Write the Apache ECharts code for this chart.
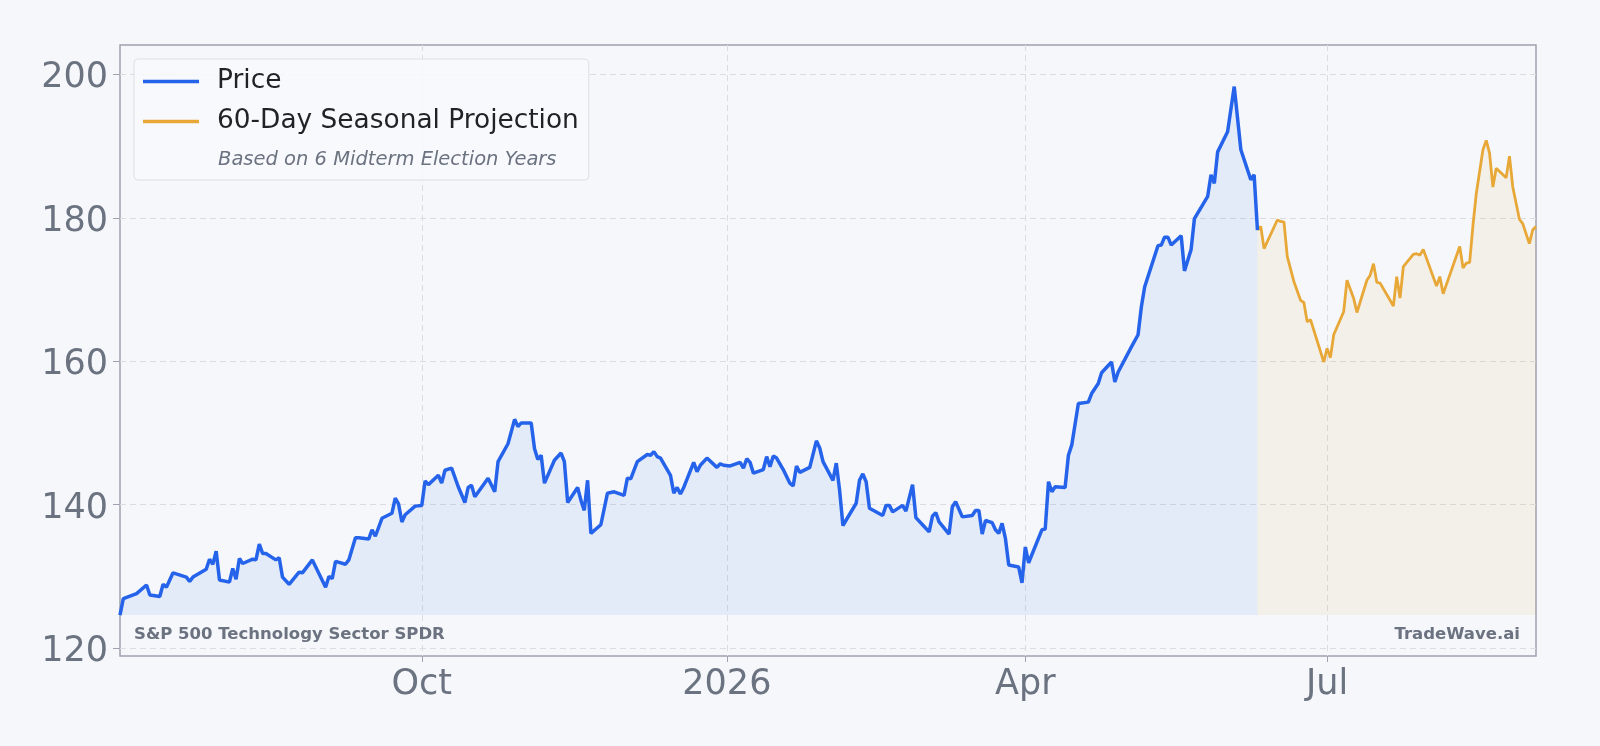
<!DOCTYPE html>
<html>
<head>
<meta charset="utf-8">
<title>S&amp;P 500 Technology Sector SPDR</title>
<script src="https://cdn.jsdelivr.net/npm/echarts@6/dist/echarts.min.js"></script>
<style>
html,body{margin:0;padding:0;background:#f5f7fa;}
#chart{width:1600px;height:746px;}
</style>
</head>
<body>
<div id="chart"></div>
<script>
/* price history */
var priceDates=['2025-07-02','2025-07-03','2025-07-07','2025-07-10','2025-07-11','2025-07-14','2025-07-15','2025-07-16','2025-07-18','2025-07-22',
'2025-07-23','2025-07-24','2025-07-28','2025-07-29','2025-07-30','2025-07-31','2025-08-01','2025-08-04','2025-08-05','2025-08-06',
'2025-08-07','2025-08-08','2025-08-11','2025-08-12','2025-08-13','2025-08-14','2025-08-15','2025-08-18','2025-08-19','2025-08-20',
'2025-08-22','2025-08-25','2025-08-26','2025-08-29','2025-09-02','2025-09-03','2025-09-04','2025-09-05','2025-09-08','2025-09-09',
'2025-09-11','2025-09-12','2025-09-15','2025-09-16','2025-09-17','2025-09-19','2025-09-22','2025-09-23','2025-09-24','2025-09-25',
'2025-09-26','2025-09-29','2025-10-01','2025-10-02','2025-10-03','2025-10-06','2025-10-07','2025-10-08','2025-10-10','2025-10-12',
'2025-10-14','2025-10-15','2025-10-16','2025-10-17','2025-10-21','2025-10-23','2025-10-24','2025-10-27','2025-10-29','2025-10-30',
'2025-10-31','2025-11-03','2025-11-04','2025-11-05','2025-11-06','2025-11-07','2025-11-10','2025-11-12','2025-11-13','2025-11-14',
'2025-11-17','2025-11-18','2025-11-19','2025-11-20','2025-11-21','2025-11-24','2025-11-26','2025-11-28','2025-12-01','2025-12-02',
'2025-12-03','2025-12-05','2025-12-08','2025-12-09','2025-12-10','2025-12-11','2025-12-12','2025-12-15','2025-12-16','2025-12-17',
'2025-12-18','2025-12-19','2025-12-22','2025-12-23','2025-12-24','2025-12-26','2025-12-29','2025-12-30','2025-12-31','2026-01-02',
'2026-01-05','2026-01-06','2026-01-07','2026-01-08','2026-01-09','2026-01-12','2026-01-13','2026-01-14','2026-01-15','2026-01-16',
'2026-01-18','2026-01-20','2026-01-21','2026-01-22','2026-01-23','2026-01-26','2026-01-28','2026-01-29','2026-01-30','2026-02-02',
'2026-02-03','2026-02-04','2026-02-05','2026-02-09','2026-02-10','2026-02-11','2026-02-12','2026-02-13','2026-02-17','2026-02-18',
'2026-02-19','2026-02-20','2026-02-23','2026-02-24','2026-02-26','2026-02-27','2026-03-01','2026-03-03','2026-03-04','2026-03-05',
'2026-03-06','2026-03-09','2026-03-10','2026-03-11','2026-03-13','2026-03-16','2026-03-17','2026-03-18','2026-03-19','2026-03-20',
'2026-03-22','2026-03-23','2026-03-24','2026-03-25','2026-03-26','2026-03-27','2026-03-30','2026-03-31','2026-04-01','2026-04-02',
'2026-04-06','2026-04-07','2026-04-08','2026-04-09','2026-04-10','2026-04-13','2026-04-14','2026-04-15','2026-04-17','2026-04-20',
'2026-04-21','2026-04-23','2026-04-24','2026-04-27','2026-04-28','2026-04-29','2026-05-03','2026-05-05','2026-05-06','2026-05-07',
'2026-05-11','2026-05-12','2026-05-13','2026-05-14','2026-05-15','2026-05-18','2026-05-19','2026-05-21','2026-05-22','2026-05-26',
'2026-05-27','2026-05-28','2026-05-29','2026-06-01','2026-06-03','2026-06-05','2026-06-08','2026-06-09','2026-06-10'];
var priceValues=[124.6,126.9,127.6,128.8,127.4,127.2,128.9,128.5,130.5,129.9,
129.3,129.9,131.0,132.4,131.7,133.5,129.5,129.2,131.1,129.6,
132.5,131.8,132.4,132.3,134.5,133.2,133.2,132.3,132.6,129.9,
128.9,130.6,130.5,132.3,128.5,130.0,129.7,132.1,131.7,132.3,
135.4,135.4,135.2,136.5,135.6,138.1,138.8,140.9,140.1,137.6,
138.6,139.8,139.9,143.3,142.8,144.1,143.0,144.8,145.1,142.5,
140.3,142.4,142.7,141.1,143.7,141.8,146.0,148.5,151.9,150.9,
151.4,151.4,147.8,146.3,146.9,143.0,146.2,147.2,146.0,140.3,
142.4,140.6,139.2,143.4,136.0,137.2,141.6,141.8,141.3,143.7,
143.6,146.0,147.0,146.9,147.4,146.7,146.5,144.1,141.6,142.4,
141.5,142.4,145.9,144.6,145.5,146.5,145.2,145.7,145.5,145.4,
145.9,145.1,146.4,145.9,144.4,144.9,146.7,145.3,146.8,146.5,
144.9,143.0,142.6,145.4,144.5,145.2,148.9,147.9,146.0,143.4,
145.8,142.0,137.1,140.2,143.4,144.3,143.2,139.5,138.5,139.9,
139.9,139.0,139.9,139.1,142.8,138.2,137.2,136.2,138.4,138.9,
137.6,135.9,139.7,140.4,138.3,138.5,139.2,139.2,135.9,137.8,
137.5,136.5,136.0,137.4,135.3,131.6,131.3,129.1,134.1,131.9,
136.5,136.6,143.2,141.8,142.5,142.4,146.9,148.3,154.1,154.3,
155.5,156.9,158.4,159.9,157.1,158.5,162.0,163.7,167.6,170.4,
176.1,176.2,177.3,177.3,176.2,177.5,172.6,175.6,179.9,183.0,
186.0,184.8,189.2,192.0,198.3,189.5,185.3,186.0,178.3];

/* 60-day seasonal projection, starts at the last price */
var projDates=['2026-06-10','2026-06-11','2026-06-12','2026-06-16','2026-06-17','2026-06-18','2026-06-19','2026-06-21','2026-06-23','2026-06-24',
'2026-06-25','2026-06-26','2026-06-30','2026-07-01','2026-07-02','2026-07-03','2026-07-06','2026-07-07','2026-07-09','2026-07-10',
'2026-07-13','2026-07-14','2026-07-15','2026-07-16','2026-07-17','2026-07-21','2026-07-22','2026-07-23','2026-07-24','2026-07-27',
'2026-07-28','2026-07-29','2026-07-30','2026-08-03','2026-08-04','2026-08-05','2026-08-10','2026-08-11','2026-08-12','2026-08-13',
'2026-08-14','2026-08-15','2026-08-17','2026-08-18','2026-08-19','2026-08-20','2026-08-21','2026-08-24','2026-08-25','2026-08-26',
'2026-08-28','2026-08-29','2026-08-31','2026-09-01','2026-09-02'];
var projValues=[178.3,178.8,175.7,179.7,179.5,179.4,174.6,171.1,168.5,168.2,
165.5,165.8,159.9,161.8,160.5,163.7,166.9,171.3,168.8,166.8,
171.3,172.0,173.6,171.0,170.9,167.7,171.8,168.8,173.2,174.9,
175.0,174.8,175.6,170.5,171.8,169.4,176.0,173.0,173.7,173.8,
179.0,183.4,189.5,190.8,189.0,184.3,186.9,185.6,188.6,184.3,
179.8,179.2,176.4,178.3,178.8];

var yTicks=[120,140,160,180,200];
var xTicks=['2025-10-01','2026-01-01','2026-04-01','2026-07-01'];
var monthNames=['Jan','Feb','Mar','Apr','May','Jun','Jul','Aug','Sep','Oct','Nov','Dec'];

/* yyyy-mm-dd -> local timestamp */
var toTime=function(s){
    var p=s.split('-');
    return new Date(+p[0],+p[1]-1,+p[2]).getTime();
};
var toPairs=function(dates,values){
    var out=[];
    for(var i=0;i<dates.length;i++){
        out.push([toTime(dates[i]),values[i]]);
    }
    return out;
};
var baseline=Math.min.apply(null,priceValues.concat(projValues));
var xTickTimes=xTicks.map(toTime);
var font='DejaVu Sans';

var chart=echarts.init(document.getElementById('chart'));
chart.setOption({
    animation:false,
    backgroundColor:'#f5f7fa',
    grid:{left:120,right:64,top:45,bottom:90,show:true,borderColor:'#9ca3af',borderWidth:1.5,backgroundColor:'transparent'},
    legend:{
        left:134,top:59,orient:'vertical',
        icon:'rect',itemWidth:56,itemHeight:3.5,itemGap:10,
        padding:[7.5,10,43.5,9],
        backgroundColor:'rgba(248,249,251,0.85)',borderColor:'#dde0e5',borderWidth:1,borderRadius:4,
        textStyle:{fontFamily:font,fontSize:26.4,color:'#1f2328',lineHeight:30,padding:[0,0,0,13]},
        data:['Price','60-Day Seasonal Projection']
    },
    xAxis:{
        type:'value',
        min:toTime(priceDates[0]),
        max:toTime(projDates[projDates.length-1]),
        axisLine:{show:false},
        axisTick:{show:true,length:6,customValues:xTickTimes,lineStyle:{color:'#9ca3af'}},
        axisLabel:{
            customValues:xTickTimes,fontFamily:font,fontSize:35,color:'#6b7280',margin:11,
            formatter:function(v){
                var d=new Date(v);
                return d.getMonth()===0?String(d.getFullYear()):monthNames[d.getMonth()];
            }
        },
        splitLine:{show:true,lineStyle:{color:'#d9dce1',width:1,type:[6,4]}}
    },
    yAxis:{
        type:'value',min:118.9,max:204.1,
        axisLine:{show:false},
        axisTick:{show:true,length:7,customValues:yTicks,lineStyle:{color:'#9ca3af'}},
        axisLabel:{
            customValues:yTicks,margin:12,
            formatter:function(v){return '{t|'+v+'}';},
            rich:{t:{fontFamily:font,fontSize:35,color:'#6b7280',padding:[8,0,0,0]}}
        },
        splitLine:{show:true,lineStyle:{color:'#d9dce1',width:1,type:[6,4]}}
    },
    graphic:[
        {type:'text',x:218,y:159.5,style:{text:'Based on 6 Midterm Election Years',font:'italic 19.5px "DejaVu Sans"',fill:'#6b7280',verticalAlign:'middle'},z:100},
        {type:'text',x:134,y:635,style:{text:'S&P 500 Technology Sector SPDR',font:'bold 16.5px "DejaVu Sans"',fill:'#6b7280',verticalAlign:'middle'},z:100},
        {type:'text',x:1520,y:635,style:{text:'TradeWave.ai',font:'bold 16.5px "DejaVu Sans"',fill:'#6b7280',align:'right',verticalAlign:'middle'},z:100}
    ],
    series:[
        {
            name:'Price',type:'line',symbol:'none',z:3,
            data:toPairs(priceDates,priceValues),
            itemStyle:{color:'#2563eb'},
            lineStyle:{color:'#2563eb',width:3.5},
            areaStyle:{origin:baseline,color:'rgba(37,99,235,0.11)'}
        },
        {
            name:'60-Day Seasonal Projection',type:'line',symbol:'none',z:2,
            data:toPairs(projDates,projValues),
            itemStyle:{color:'#e8a838'},
            lineStyle:{color:'#e8a838',width:2.8},
            areaStyle:{origin:baseline,color:'rgba(232,168,56,0.12)'}
        }
    ]
});
</script>
</body>
</html>
